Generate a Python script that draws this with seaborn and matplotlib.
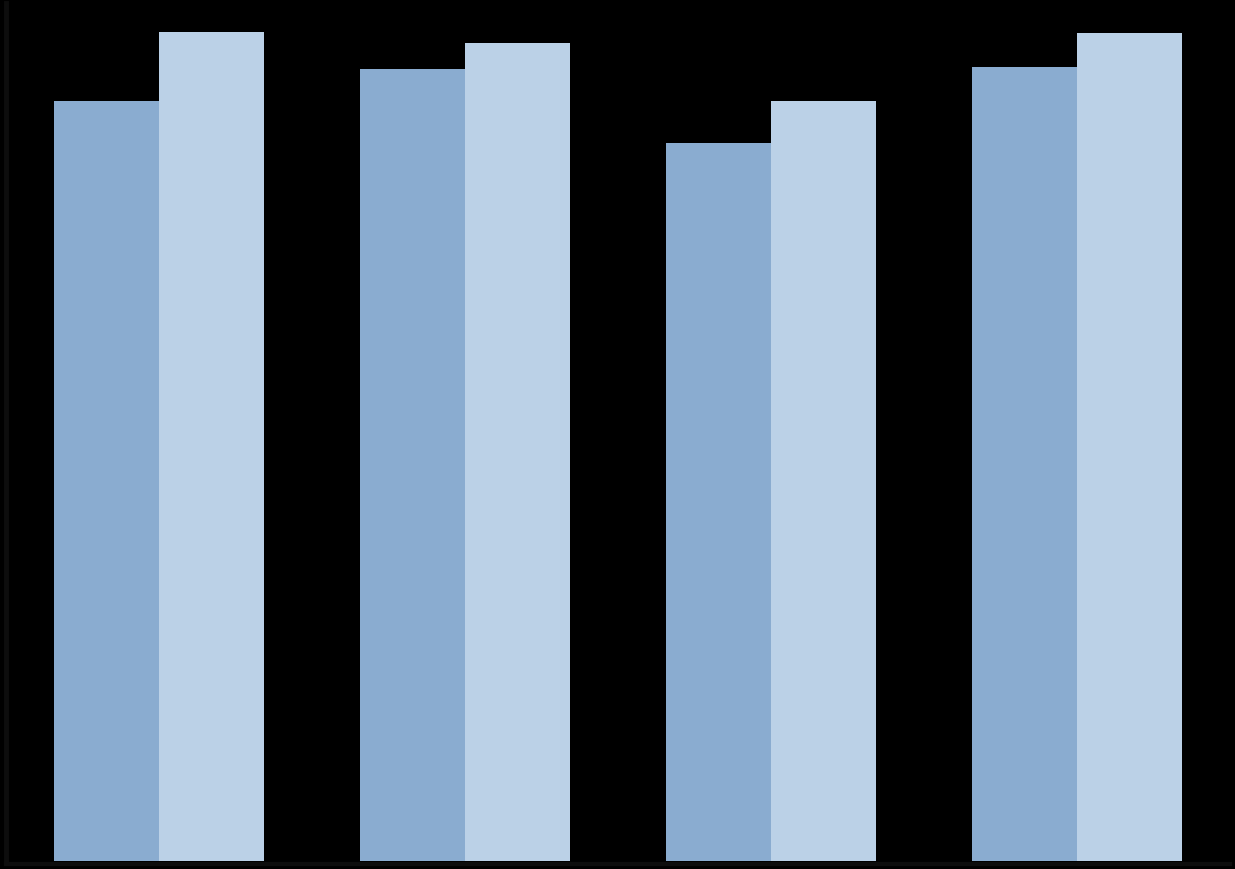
import matplotlib
matplotlib.use("Agg")
import matplotlib.pyplot as plt
import seaborn as sns
import pandas as pd

categories = ["A", "B", "C", "D"]
series_names = ["Series 1", "Series 2"]
series1 = [88.6, 92.3, 83.7, 92.5]
series2 = [96.6, 95.3, 88.6, 96.5]
colors = ["#8AACD0", "#BBD1E7"]

df = pd.DataFrame({
    "category": categories * 2,
    "series": [series_names[0]] * 4 + [series_names[1]] * 4,
    "value": series1 + series2,
})

sns.set_theme(style="white")
fig = plt.figure(figsize=(12.35, 8.69), dpi=100, facecolor="black")
ax = fig.add_axes([6 / 1235, 8 / 869, 1224 / 1235, 858 / 869])
ax.set_facecolor("black")

sns.barplot(data=df, x="category", y="value", hue="series", palette=colors,
            width=0.685, saturation=1, ax=ax, legend=False, linewidth=0)

ax.set_xlim(-0.5, 3.5)
ax.set_ylim(0, 100)
ax.set_xticks([])
ax.set_yticks([])
ax.set_xlabel("")
ax.set_ylabel("")
for s in ["top", "right"]:
    ax.spines[s].set_visible(False)
ax.spines["left"].set_color("#0d0d0d")
ax.spines["left"].set_linewidth(3.5)
ax.spines["bottom"].set_color("#0d0d0d")
ax.spines["bottom"].set_linewidth(3)
ax.spines["bottom"].set_position(("outward", 2.5))

fig.savefig("out.png", dpi=100, facecolor="black")
